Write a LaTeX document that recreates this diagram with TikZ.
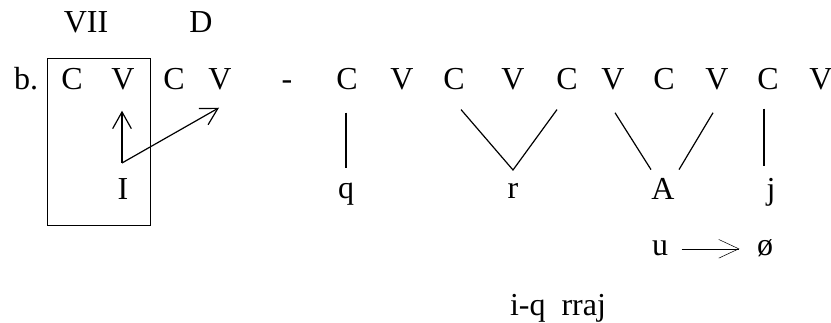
\documentclass[tikz,border=0pt]{standalone}
\usepackage{fontspec}
\setmainfont{Liberation Serif}
\usetikzlibrary{arrows.meta}

\begin{document}
\begin{tikzpicture}[x=0.75pt,y=-0.75pt,font=\fontsize{24}{28}\selectfont,
  seg/.style={inner sep=0pt,anchor=base},
  assoc/.style={line width=0.9pt},
  >={Straight Barb[length=12.5pt,width=14pt]}]
  \useasboundingbox (0,0) rectangle (831,323);
  \node[seg] (vii) at (86,33) {VII};
  \node[seg] (d) at (201,33) {D};
  \node[seg] (b) at (26,90) {b.};
  \node[seg] (c1) at (72,90) {C};
  \node[seg] (v1) at (123,90) {V};
  \node[seg] (c2) at (174,90) {C};
  \node[seg] (v2) at (220,90) {V};
  \node[seg] (dash) at (287,90) {-};
  \node[seg] (c3) at (347,90) {C};
  \node[seg] (v3) at (402,90) {V};
  \node[seg] (c4) at (454,90) {C};
  \node[seg] (v4) at (513,90) {V};
  \node[seg] (c5) at (567,90) {C};
  \node[seg] (v5) at (613,90) {V};
  \node[seg] (c6) at (664,90) {C};
  \node[seg] (v6) at (717,90) {V};
  \node[seg] (c7) at (768,90) {C};
  \node[seg] (v7) at (821,90) {V};
  \node[seg] (mi) at (123,200) {I};
  \node[seg] (q) at (346,199) {q};
  \node[seg] (r) at (513,199) {r};
  \node[seg] (a) at (663,200) {A};
  \node[seg] (j) at (771,200) {j};
  \node[seg] (u) at (660,256) {u};
  \node[seg] (zero) at (765,256) {ø};
  \node[seg] (form) at (558,316) {i-q~~rraj};
  \draw[line width=0.75pt] (47,59) rectangle (150,226);
  \coordinate (ifork) at (122,163);
  \coordinate (rv) at (513,170);
  \draw[assoc,->] (ifork) -- ([shift={(-1,20)}]v1.south);
  \draw[assoc,->] (ifork) -- ([shift={(-1,17)}]v2.south);
  \draw[assoc] ([shift={(-1,22)}]c3.south) -- ([shift={(0,-15)}]q.north);
  \draw[assoc] ([shift={(7,19)}]c4.south) -- (rv) -- ([shift={(-10,19)}]c5.south);
  \draw[assoc] ([shift={(2,22)}]v5.south) -- ([shift={(-12,-9)}]a.north);
  \draw[assoc] ([shift={(16,-9)}]a.north) -- ([shift={(-4,22)}]v6.south);
  \draw[assoc] ([shift={(-4,18)}]c7.south) -- ([shift={(-7,-13)}]j.north);
  \draw[line width=0.4pt,-{Straight Barb[length=15pt,width=14pt]},
    shorten <=10pt,shorten >=13pt] (u.east) -- (u.east -| zero.west);
\end{tikzpicture}
\end{document}
